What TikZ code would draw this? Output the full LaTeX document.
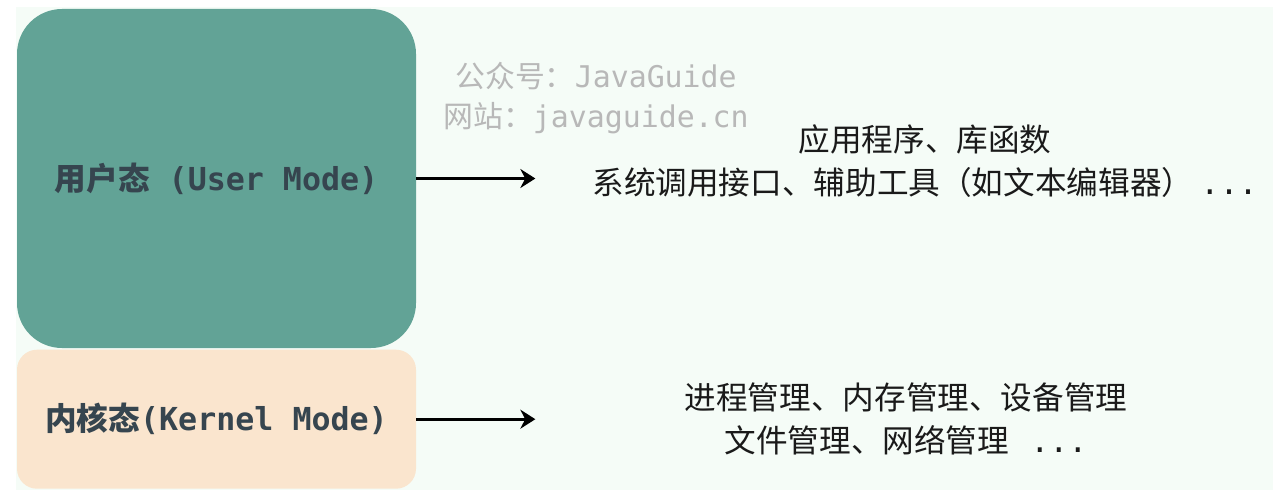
\documentclass[tikz,border=0pt]{standalone}
\usepackage{fontspec}
\newfontfamily\cjkfont{Noto Sans CJK SC}
\newfontfamily\codefont{DejaVu Sans Mono}
\usepackage{xcolor}
\definecolor{modeUser}{HTML}{62A396}
\definecolor{modeKernel}{HTML}{FAE5CE}
\definecolor{modeText}{HTML}{36454F}
\definecolor{diaBack}{HTML}{F5FCF7}
\definecolor{markGray}{HTML}{B8B8B8}
\definecolor{descText}{HTML}{1A1A1A}
\usepackage{tikz}
\usetikzlibrary{arrows.meta,positioning}
\tikzset{
    modebox/.style={
        rectangle,
        minimum width=7.98cm,
        align=center,
        inner sep=0pt,
        text=modeText,
        font=\bfseries\fontsize{18}{22}\selectfont
    },
    usermode/.style={
        modebox,
        fill=modeUser,
        rounded corners=9mm,
        minimum height=6.78cm
    },
    kernelmode/.style={
        modebox,
        fill=modeKernel,
        rounded corners=4mm,
        minimum height=2.78cm
    },
    desc/.style={
        align=center,
        inner sep=0pt,
        text=descText,
        font=\cjkfont\fontsize{18}{24.5}\selectfont
    },
    watermark/.style={
        align=center,
        inner sep=0pt,
        text=markGray,
        font=\fontsize{17}{22.7}\selectfont
    },
    arrow/.style={
        -{Stealth[length=3mm,width=3.8mm]},
        line width=1.7pt,
        color=black
    }
}

\begin{document}
\begin{tikzpicture}
    \useasboundingbox (0,0) rectangle (25.52,9.92);
    \fill[diaBack] (0.32,0.12) rectangle (25.46,9.78);

    % Modes
    \node[usermode] (user) at (4.33,6.35) {{\cjkfont 用户态}{\codefont\ (User Mode)}};
    \node[kernelmode, below=0.02cm of user] (kernel) {{\cjkfont 内核态}{\codefont (Kernel Mode)}};

    % Watermark
    \node[watermark] (mark) at (11.92,7.96) {{\cjkfont 公众号：}{\codefont JavaGuide}\\{\cjkfont 网站：}{\codefont javaguide.cn}};

    % Arrow ends
    \coordinate[right=2.38cm of user.east] (uend);
    \coordinate[right=2.38cm of kernel.east] (kend);

    % Descriptions
    \node[desc] (udesc) at (18.5,6.70) {应用程序、库函数\\系统调用接口、辅助工具（如文本编辑器）~{\codefont ...}};
    \node[desc] (kdesc) at (18.12,1.54) {进程管理、内存管理、设备管理\\文件管理、网络管理~~~{\codefont ...}};

    % Arrows
    \draw[arrow] (user.east) -- (uend);
    \draw[arrow] (kernel.east) -- (kend);
\end{tikzpicture}
\end{document}
